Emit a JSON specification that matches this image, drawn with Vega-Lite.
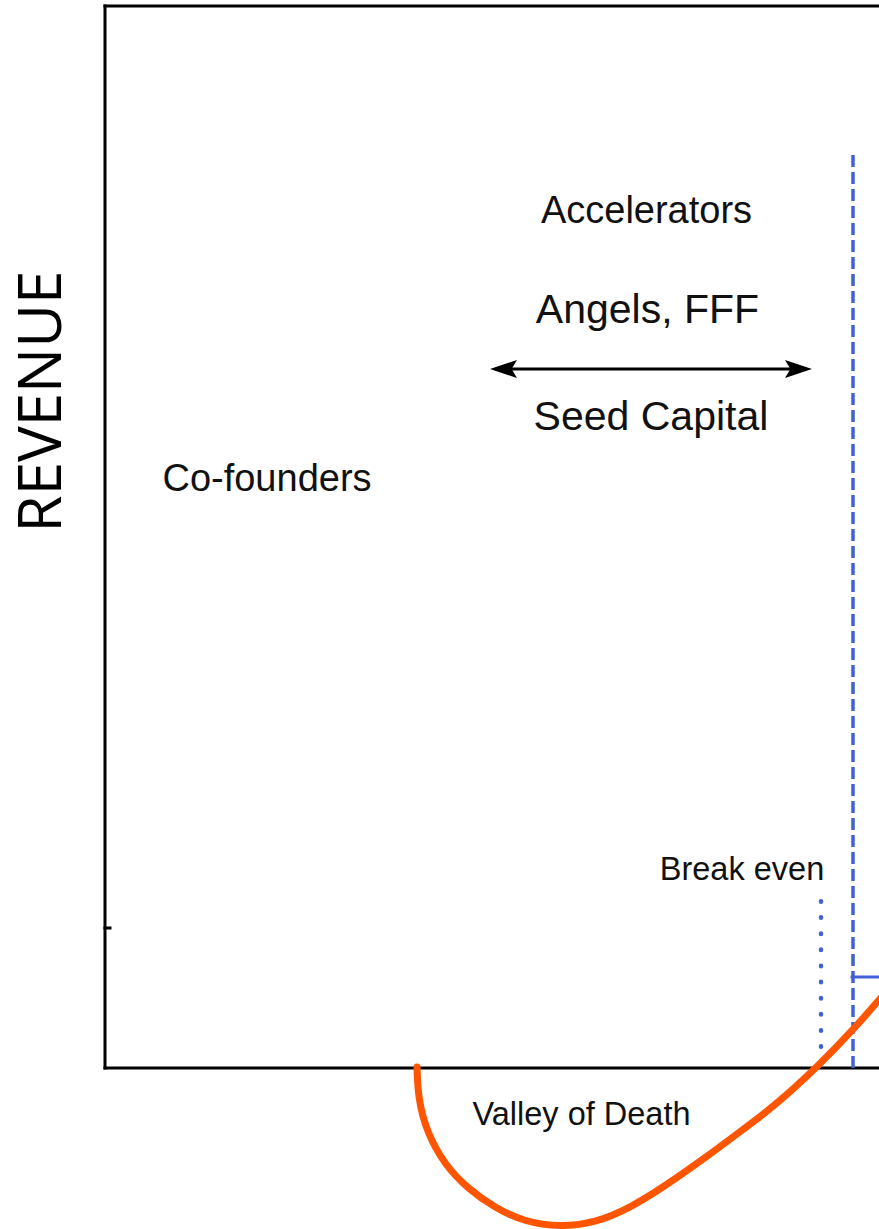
{
  "$schema": "https://vega.github.io/schema/vega-lite/v6.json",
  "width": 774,
  "height": 1229,
  "autosize": {"type": "none"},
  "padding": {"left": 105, "top": 0, "right": 0, "bottom": 0},
  "background": "white",
  "config": {"view": {"stroke": null}, "font": "Liberation Sans"},
  "encoding": {
    "x": {"field": "x", "type": "quantitative", "scale": {"domain": [0, 774], "nice": false, "zero": false}, "axis": null},
    "y": {"field": "y", "type": "quantitative", "scale": {"domain": [-161, 1068], "nice": false, "zero": false},
      "axis": {"title": "REVENUE", "domain": false, "ticks": false, "labels": false, "grid": false,
        "titleFont": "Open Sans", "titleFontSize": 60, "titleFontWeight": "normal", "titleColor": "black",
        "titleAngle": 270, "titleX": -45, "titleY": 401, "titleAlign": "center", "titleBaseline": "alphabetic"}}
  },
  "layer": [
    {
      "data": {"values": [
        {"x": 0, "y": 0, "x2": 0, "y2": 1062},
        {"x": 0, "y": 1062, "x2": 774, "y2": 1062},
        {"x": 0, "y": 0, "x2": 774, "y2": 0},
        {"x": 0, "y": 140, "x2": 5, "y2": 140}
      ]},
      "mark": {"type": "rule", "color": "black", "strokeWidth": 3, "strokeCap": "square"},
      "encoding": {"x2": {"field": "x2"}, "y2": {"field": "y2"}}
    },
    {
      "data": {"values": [{"x": 748, "y": 0, "x2": 748, "y2": 913}]},
      "mark": {"type": "rule", "color": "#4361d6", "strokeWidth": 3.5, "strokeDash": [12, 5]},
      "encoding": {"x2": {"field": "x2"}, "y2": {"field": "y2"}}
    },
    {
      "data": {"values": [{"x": 716, "y": 5, "x2": 716, "y2": 167}]},
      "mark": {"type": "rule", "color": "#4361d6", "strokeWidth": 4.5, "strokeDash": [0.5, 15.63], "strokeCap": "round"},
      "encoding": {"x2": {"field": "x2"}, "y2": {"field": "y2"}}
    },
    {
      "data": {"values": [{"x": 747, "y": 91, "x2": 774, "y2": 91}]},
      "mark": {"type": "rule", "color": "#4361d6", "strokeWidth": 3, "strokeCap": "square"},
      "encoding": {"x2": {"field": "x2"}, "y2": {"field": "y2"}}
    },
    {
      "data": {"values": [{"x": 390, "y": 699, "x2": 702, "y2": 699}]},
      "mark": {"type": "rule", "color": "black", "strokeWidth": 3},
      "encoding": {"x2": {"field": "x2"}, "y2": {"field": "y2"}}
    },
    {
      "data": {"values": [{"x": 398.5, "y": 699}]},
      "mark": {"type": "point", "filled": true, "color": "black", "opacity": 1, "size": 729, "shape": "M-1,0 L1,-0.67 L0.6,0 L1,0.67 Z"}
    },
    {
      "data": {"values": [{"x": 693.5, "y": 699}]},
      "mark": {"type": "point", "filled": true, "color": "black", "opacity": 1, "size": 729, "shape": "M1,0 L-1,-0.67 L-0.6,0 L-1,0.67 Z"}
    },
    {
      "data": {"values": [
        {"x": 312, "y": 1}, {"x": 313, "y": -30}, {"x": 322, "y": -65}, {"x": 340, "y": -97},
        {"x": 362, "y": -120}, {"x": 390, "y": -140}, {"x": 420, "y": -154}, {"x": 455, "y": -159},
        {"x": 490, "y": -155}, {"x": 525, "y": -140}, {"x": 560, "y": -118}, {"x": 600, "y": -90},
        {"x": 640, "y": -60}, {"x": 660, "y": -45}, {"x": 685, "y": -24}, {"x": 712, "y": 1},
        {"x": 748, "y": 38}, {"x": 774, "y": 68}, {"x": 800, "y": 98}
      ]},
      "mark": {"type": "line", "color": "#ff5500", "strokeWidth": 7, "interpolate": "basis", "clip": true, "strokeCap": "round"}
    },
    {
      "data": {"values": [
        {"x": 541.5, "y": 845, "label": "Accelerators"},
        {"x": 162, "y": 577, "label": "Co-founders"}
      ]},
      "mark": {"type": "text", "fontSize": 38, "align": "center", "baseline": "alphabetic", "color": "#111111"},
      "encoding": {"text": {"field": "label"}}
    },
    {
      "data": {"values": [
        {"x": 542.5, "y": 745, "label": "Angels, FFF"},
        {"x": 546, "y": 638, "label": "Seed Capital"}
      ]},
      "mark": {"type": "text", "fontSize": 41, "align": "center", "baseline": "alphabetic", "color": "#111111"},
      "encoding": {"text": {"field": "label"}}
    },
    {
      "data": {"values": [
        {"x": 637, "y": 188, "label": "Break even"},
        {"x": 476.5, "y": -57, "label": "Valley of Death"}
      ]},
      "mark": {"type": "text", "fontSize": 32.5, "align": "center", "baseline": "alphabetic", "color": "#111111"},
      "encoding": {"text": {"field": "label"}}
    }
  ]
}
